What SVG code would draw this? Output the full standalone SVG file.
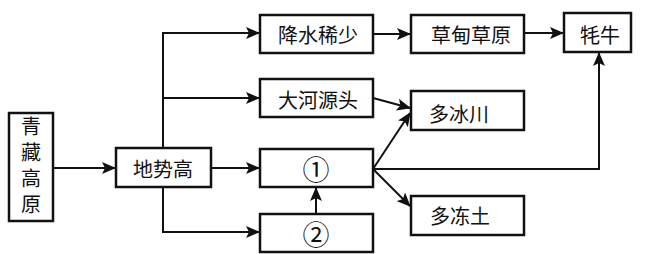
<svg xmlns="http://www.w3.org/2000/svg" width="648" height="254" viewBox="0 0 648 254">
<style>
.box{fill:#fff;stroke:#111;stroke-width:2.5}
.t{font-family:"Noto Sans CJK SC","Noto Sans",sans-serif;font-size:20px;fill:#111;text-anchor:middle;dominant-baseline:central}
.num{font-size:27px}
.v{font-family:"Noto Sans CJK SC","Noto Sans",sans-serif;font-size:20px;fill:#111;text-anchor:middle;writing-mode:vertical-rl;letter-spacing:6px}
.c{fill:none;stroke:#111;stroke-width:2}
</style>
<defs>
<marker id="ah" markerUnits="userSpaceOnUse" markerWidth="14" markerHeight="12" viewBox="0 0 14 12" refX="13" refY="6" orient="auto">
<path d="M0,0 L14,6 L0,12 L3,6 z" fill="#111"/>
</marker>
</defs>
<rect width="648" height="254" fill="#fff"/>
<g id="connectors">
<path class="c" d="M53,168 H115" marker-end="url(#ah)"/>
<path class="c" d="M163,148 V33 H259" marker-end="url(#ah)"/>
<path class="c" d="M163,98 H259" marker-end="url(#ah)"/>
<path class="c" d="M211,168 H259" marker-end="url(#ah)"/>
<path class="c" d="M163,187 V232 H259" marker-end="url(#ah)"/>
<path class="c" d="M373,34 H410" marker-end="url(#ah)"/>
<path class="c" d="M524,33 H563" marker-end="url(#ah)"/>
<path class="c" d="M373,98 L410,108" marker-end="url(#ah)"/>
<path class="c" d="M373,169 L410,113" marker-end="url(#ah)"/>
<path class="c" d="M373,169 L410,206" marker-end="url(#ah)"/>
<path class="c" d="M373,169 H599 V53" marker-end="url(#ah)"/>
<path class="c" d="M316,214 V188" marker-end="url(#ah)"/>
</g>
<g id="qingzang">
<rect class="box" x="9" y="113" width="44" height="108"/>
<text class="v" x="31" y="168">青藏高原</text>
</g>
<g id="dishigao">
<rect class="box" x="116" y="148" width="95" height="39"/>
<text class="t" x="163" y="168">地势高</text>
</g>
<g id="jiangshui">
<rect class="box" x="260" y="15" width="113" height="38"/>
<text class="t" x="318" y="34">降水稀少</text>
</g>
<g id="dahe">
<rect class="box" x="260" y="79" width="113" height="38"/>
<text class="t" x="318" y="99">大河源头</text>
</g>
<g id="n1">
<rect class="box" x="260" y="149" width="113" height="38"/>
<text class="t num" x="316" y="168">①</text>
</g>
<g id="n2">
<rect class="box" x="260" y="214" width="113" height="38"/>
<text class="t num" x="316" y="233">②</text>
</g>
<g id="caodian">
<rect class="box" x="411" y="15" width="113" height="38"/>
<text class="t" x="471" y="34">草甸草原</text>
</g>
<g id="bingchuan">
<rect class="box" x="411" y="91" width="113" height="39"/>
<text class="t" x="459" y="113">多冰川</text>
</g>
<g id="dongtu">
<rect class="box" x="411" y="196" width="113" height="39"/>
<text class="t" x="460" y="215">多冻土</text>
</g>
<g id="maoniu">
<rect class="box" x="564" y="13" width="67" height="39"/>
<text class="t" x="600" y="34">牦牛</text>
</g>
</svg>
